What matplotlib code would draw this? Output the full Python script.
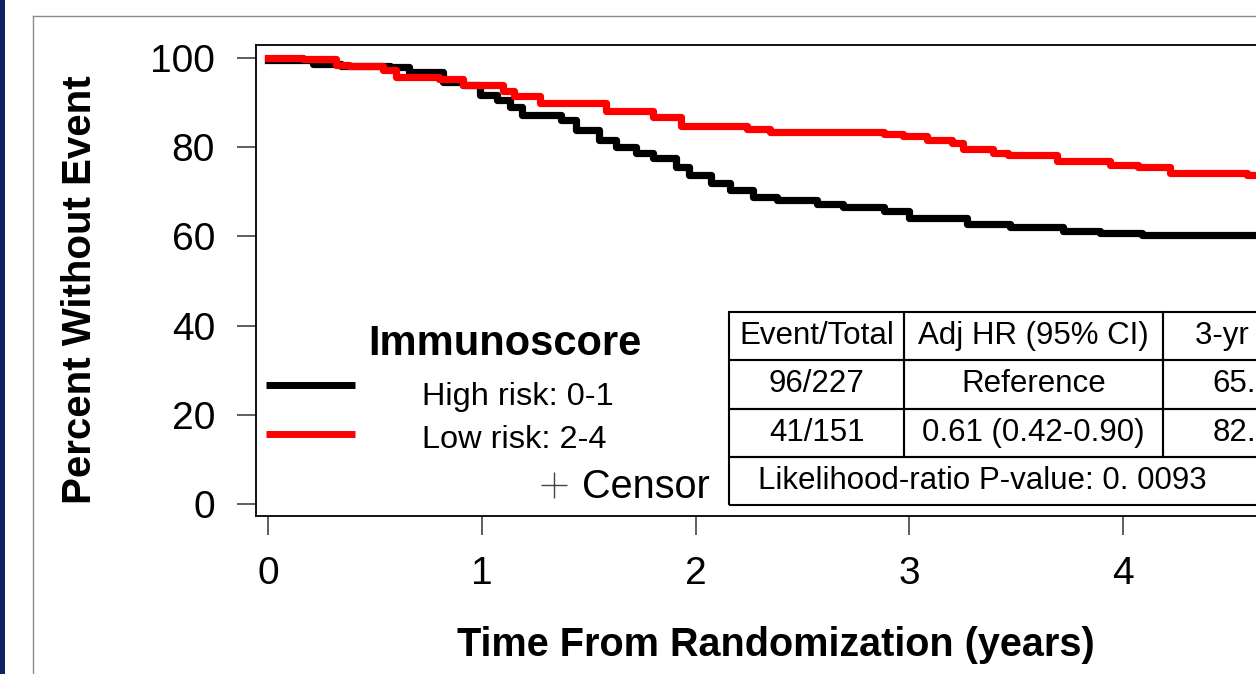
import matplotlib
matplotlib.use("Agg")
import matplotlib.pyplot as plt
from matplotlib.lines import Line2D
from matplotlib.patches import Rectangle

plt.rcParams['font.family'] = ['Liberation Sans', 'DejaVu Sans']

# Kaplan-Meier steps (time in years, percent without event)
high_t = [0, 0.21, 0.34, 0.57, 0.66, 0.82, 0.91, 0.99, 1.07, 1.13, 1.19, 1.37, 1.44,
          1.55, 1.63, 1.72, 1.80, 1.91, 1.97, 2.07, 2.16, 2.27, 2.38, 2.57, 2.69,
          2.88, 3.00, 3.27, 3.47, 3.72, 3.89, 4.09, 5.0]
high_v = [99.5, 98.7, 98.3, 97.9, 96.9, 94.7, 93.9, 91.7, 90.6, 89.1, 87.2, 86.1, 83.9,
          81.6, 80.1, 78.6, 77.5, 75.6, 73.8, 71.9, 70.4, 68.9, 68.2, 67.3, 66.5,
          65.6, 64.1, 62.8, 62.0, 61.3, 60.8, 60.3, 60.3]

low_t = [0, 0.165, 0.32, 0.38, 0.54, 0.60, 0.80, 0.91, 1.10, 1.15, 1.27, 1.58, 1.80,
         1.93, 2.24, 2.35, 2.88, 2.97, 3.08, 3.20, 3.25, 3.39, 3.46, 3.69, 3.94,
         4.07, 4.22, 4.58, 5.0]
low_v = [100.0, 99.7, 98.4, 98.1, 97.3, 95.8, 95.4, 93.9, 92.5, 91.4, 89.8, 88.2, 86.8,
         84.8, 84.0, 83.3, 82.9, 82.4, 81.6, 80.9, 79.7, 78.8, 78.2, 76.9, 75.9,
         75.5, 74.2, 73.7, 73.7]

group_labels = ['High risk: 0-1', 'Low risk: 2-4']
group_colors = ['black', 'red']

table_header = ['Event/Total', 'Adj HR (95% CI)', '3-yr DFS']
table_rows = [['96/227', 'Reference', '65.5%'],
              ['41/151', '0.61 (0.42-0.90)', '82.3%']]
p_text = 'Likelihood-ratio P-value: 0. 0093'

W, H = 1256, 674


def fx(px):
    return px / W


def fy(py):
    return 1 - py / H


fig = plt.figure(figsize=(W / 100, H / 100), dpi=100)

# slide frame
fig.add_artist(Rectangle((0, 0), fx(5), 1, transform=fig.transFigure,
                         color='#0b2461', lw=0))
fig.add_artist(Line2D([fx(33), fx(33)], [0, fy(16)], transform=fig.transFigure,
                      color='#8c8c8c', lw=1))
fig.add_artist(Line2D([fx(33), 1], [fy(16), fy(16)], transform=fig.transFigure,
                      color='#8c8c8c', lw=1))

ax_l, ax_r, ax_t, ax_b = 256, 1400, 45, 516
ax = fig.add_axes([fx(ax_l), fy(ax_b), (ax_r - ax_l) / W, (ax_b - ax_t) / H])

ax.step(high_t, high_v, where='post', color=group_colors[0], lw=5.2)
ax.step(low_t, low_v, where='post', color=group_colors[1], lw=5.2)

px_per_year = 213.8
ax.set_xlim(-(268 - ax_l) / px_per_year, (ax_r - 268) / px_per_year)
ax.set_ylim(-(ax_b - 504) / 4.46, (504 - ax_t) / 4.46)
ax.set_xticks([0, 1, 2, 3, 4])
ax.set_yticks([0, 20, 40, 60, 80, 100])
ax.tick_params(axis='both', direction='out', length=13.5, width=1.1,
               color='#333333', labelsize=28)
ax.tick_params(axis='x', pad=15)
ax.tick_params(axis='y', pad=16)
for s in ax.spines.values():
    s.set_linewidth(1.3)

# axis titles
fig.text(fx(776), fy(656), 'Time From Randomization (years)', ha='center',
         va='baseline', fontsize=28.5, fontweight='bold')
fig.text(fx(80), fy(290), 'Percent Without Event', ha='center', va='center',
         rotation=90, fontsize=29, fontweight='bold')

# legend
fig.text(fx(505), fy(355), 'Immunoscore', ha='center', va='baseline',
         fontsize=30, fontweight='bold')
for label, color, ly, ty in zip(group_labels, group_colors, [385, 434], [405, 448]):
    fig.add_artist(Line2D([fx(266), fx(355)], [fy(ly), fy(ly)],
                          transform=fig.transFigure, color=color, lw=5.0,
                          solid_capstyle='butt'))
    fig.text(fx(422), fy(ty), label, ha='left', va='baseline', fontsize=23.4)
fig.add_artist(Line2D([fx(554)], [fy(485)], transform=fig.transFigure,
                      marker='+', markersize=19, mew=1.0, color='#444444', lw=0))
fig.text(fx(710), fy(498), 'Censor', ha='right', va='baseline', fontsize=28.5)

# results table
tb_l, tb_r, tb_t, tb_b = 729, 1351, 312, 505
col_w = [175, 259, 188]
cell_text = [table_header] + table_rows + [['', '', '']]
aw, ah = ax_r - ax_l, ax_b - ax_t
tbl = ax.table(cellText=cell_text, colWidths=[c / sum(col_w) for c in col_w],
               cellLoc='center',
               bbox=[(tb_l - ax_l) / aw, (ax_b - tb_b) / ah,
                     (tb_r - tb_l) / aw, (tb_b - tb_t) / ah])
tbl.auto_set_font_size(False)
tbl.set_fontsize(22.5)
for (r, c), cell in tbl.get_celld().items():
    cell.set_linewidth(1.5)
    cell.set_edgecolor('black')
    cell.set_facecolor('none')
    if r == 3:
        cell.visible_edges = {0: 'BLT', 1: 'BT', 2: 'BTR'}[c]
tbl[3, 0].get_text().set_text(p_text)
tbl[3, 0]._loc = 'left'
tbl[3, 0].PAD = (758 - tb_l) / col_w[0]
tbl[3, 0].get_text().set_ha('left')

fig.savefig('out.png', dpi=100)
